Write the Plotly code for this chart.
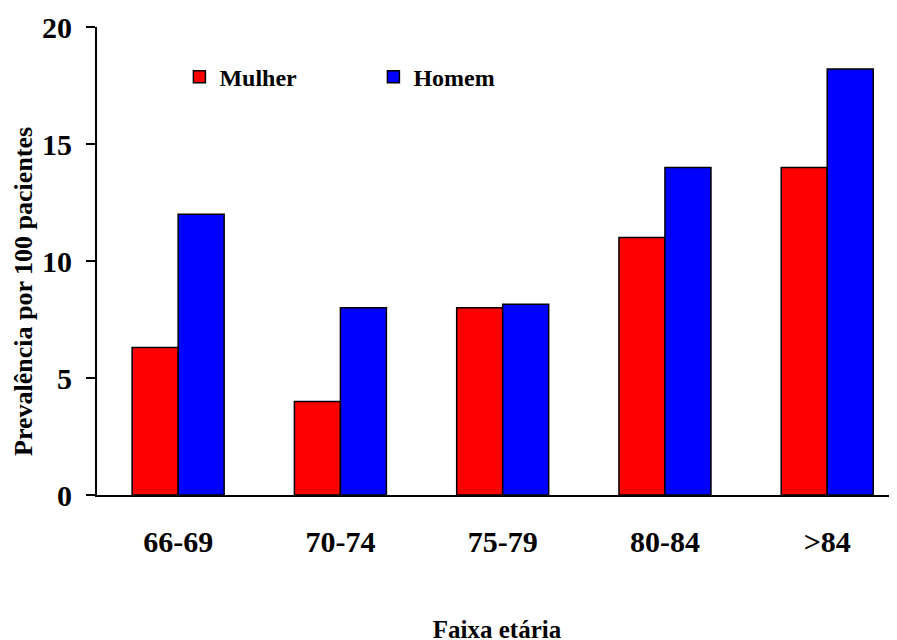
import plotly.graph_objects as go

# =========================================================
# Data
# =========================================================

faixas = ["66-69", "70-74", "75-79", "80-84", ">84"]

mulher = [6.3, 4.0, 8.0, 11.0, 14.0]

homem = [12.0, 8.0, 8.15, 14.0, 18.2]

FONT = "Liberation Serif"


# =========================================================
# Figure
# =========================================================

fig = go.Figure()

fig.add_trace(go.Bar(
    x=faixas,
    y=mulher,
    name="Mulher",
    marker=dict(color="#FF0000", line=dict(color="black", width=1.5))
))

fig.add_trace(go.Bar(
    x=faixas,
    y=homem,
    name="Homem",
    marker=dict(color="#0000FF", line=dict(color="black", width=1.5))
))

# page body has an 8px margin, margins below compensate for it
fig.update_layout(

    width=897,
    height=640,

    barmode="group",
    bargap=0.433,
    bargroupgap=0,

    paper_bgcolor="white",
    plot_bgcolor="white",

    font=dict(family=FONT, color="black"),

    margin=dict(l=89, r=8, t=19, b=153),

    legend=dict(
        orientation="h",
        x=0.103,
        y=0.893,
        xanchor="left",
        yanchor="middle",
        entrywidth=149,
        itemwidth=30,
        font=dict(family=FONT, size=24, color="black", weight="bold"),
        bgcolor="rgba(0,0,0,0)"
    ),

    xaxis=dict(
        range=[-0.5, 4.43],
        automargin=False,
        showline=True,
        linecolor="black",
        linewidth=2,
        ticks="",
        showgrid=False,
        tickfont=dict(family=FONT, size=30, weight="bold"),
        ticklabelstandoff=19,
        title=dict(
            text="Faixa etária",
            font=dict(family=FONT, size=25, weight="bold"),
            standoff=63
        )
    ),

    yaxis=dict(
        range=[0, 20],
        automargin=False,
        tickvals=[0, 5, 10, 15, 20],
        showline=True,
        linecolor="black",
        linewidth=2,
        ticks="outside",
        ticklen=9,
        tickwidth=2,
        tickcolor="black",
        showgrid=False,
        zeroline=False,
        tickfont=dict(family=FONT, size=30, weight="bold"),
        ticklabelstandoff=8
    ),

    annotations=[
        dict(
            text="Prevalência por 100 pacientes",
            textangle=-90,
            xref="paper",
            yref="paper",
            x=0,
            y=0.434,
            xshift=-73,
            xanchor="center",
            yanchor="middle",
            showarrow=False,
            font=dict(family=FONT, size=26, weight="bold")
        )
    ]
)

fig.write_html("out.html")
